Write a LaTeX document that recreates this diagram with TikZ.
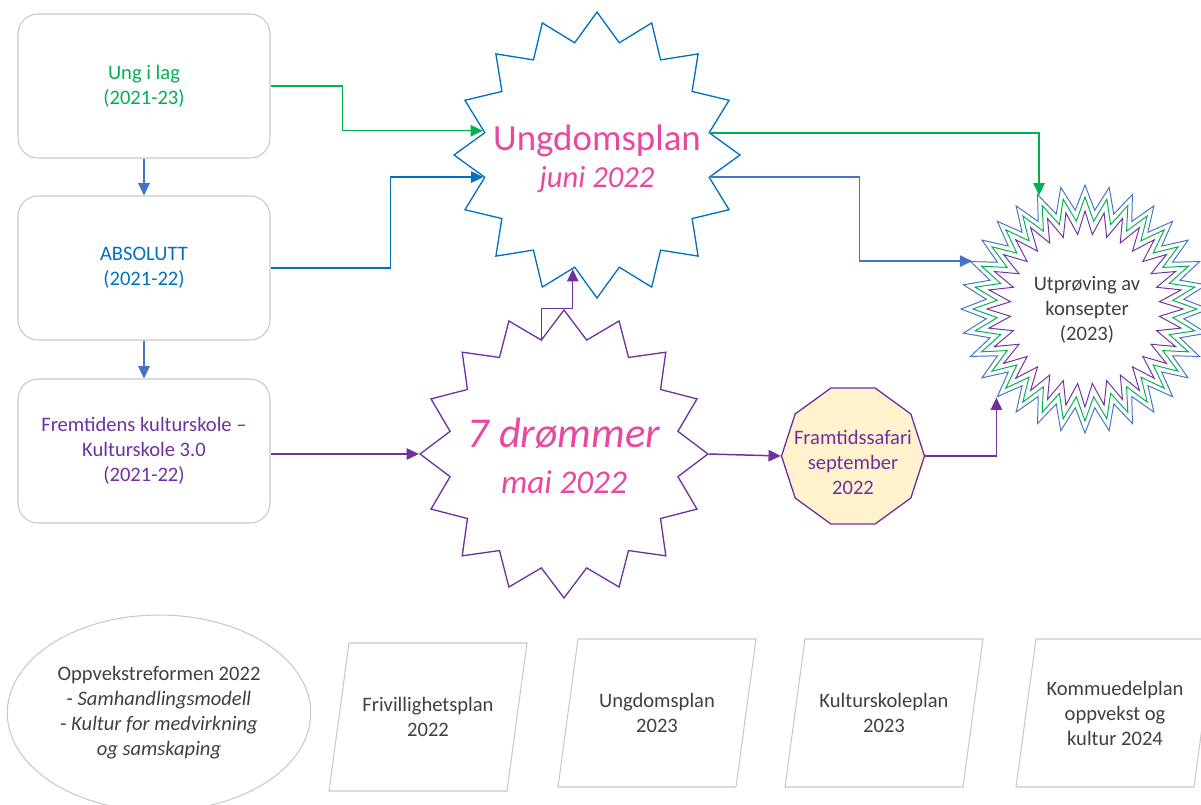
\documentclass[tikz,border=0pt]{standalone}
\usepackage{fontspec}
\setmainfont{Carlito}
\usetikzlibrary{shapes.geometric,arrows.meta}
\definecolor{lgray}{RGB}{200,200,200}
\definecolor{dgray}{RGB}{64,64,64}
\definecolor{grn}{RGB}{0,176,80}
\definecolor{blu}{RGB}{0,112,192}
\definecolor{blu2}{RGB}{68,114,196}
\definecolor{purp}{RGB}{112,48,160}
\definecolor{rosa}{RGB}{232,72,160}
\definecolor{safari}{RGB}{255,242,204}

\begin{document}
\begin{tikzpicture}[x=0.02cm, y=-0.02cm,
	every node/.style={font=\fontsize{11.7pt}{14.2pt}\selectfont},
	box/.style={draw=lgray, line width=0.6pt, rounded corners=0.4cm, minimum width=5.04cm, minimum height=2.88cm, align=center},
	plantext/.style={align=center, text=dgray, inner sep=0pt},
	planline/.style={draw=lgray, line width=0.6pt},
	burst/.style={star, inner sep=0pt, line width=0.75pt},
	thinburst/.style={star, star points=32, inner sep=0pt, line width=0.55pt},
	flow/.style={-{Triangle[length=7pt, width=6.5pt]}, line width=0.85pt}]
			\useasboundingbox (0,0) rectangle (1201,805);
			
			\node[box, text=grn] (lag) at (144,86) {Ung i lag\\(2021-23)};
			\node[box, text=blu] (absolutt) at (144,268) {ABSOLUTT\\(2021-22)};
			\node[box, text=purp] (kulturskole) at (144,451) {Fremtidens kulturskole –\\Kulturskole 3.0\\(2021-22)};
			
			\node[burst, star points=16, star point ratio=1.25, minimum size=5.72cm, draw=blu] (ung) at (597,155) {};
			\node[text=rosa, font=\fontsize{21pt}{25pt}\selectfont] (ungtitle) at (597,141) {Ungdomsplan};
			\node[text=rosa, font=\fontsize{17.4pt}{21pt}\selectfont\itshape] (ungdate) at (597,180) {juni 2022};
			
			\node[burst, star points=16, star point ratio=1.24, minimum size=5.76cm, draw=purp] (dream) at (564,454) {};
			\node[text=rosa, font=\fontsize{24.2pt}{29pt}\selectfont\itshape] (dreamtitle) at (564,433) {7 drømmer};
			\node[text=rosa, font=\fontsize{18.9pt}{23pt}\selectfont\itshape] (dreamdate) at (564,482) {mai 2022};
			
			\node[regular polygon, regular polygon sides=10, minimum size=2.86cm, inner sep=0pt, fill=safari, draw=purp, line width=0.75pt] (safari) at (853,456) {};
			\node[text=purp, align=center] (safaritext) at (853,462) {Framtidssafari\\september\\2022};
			
			\node[thinburst, star point ratio=1.25, minimum size=4.96cm, draw=blu2] (utp) at (1085,309) {};
			\node[thinburst, star point ratio=1.27, minimum size=4.48cm, draw=grn] (utpmid) at (1085,309) {};
			\node[thinburst, star point ratio=1.31, minimum size=3.92cm, draw=purp] (utpin) at (1085,309) {};
			\node[text=dgray, align=center] (utptext) at (1087,310) {Utprøving av\\konsepter\\(2023)};
			
			\node[ellipse, draw=lgray, line width=0.6pt, minimum width=5.88cm, minimum height=3.92cm, text=dgray, align=center] (reform) at (159,713) {Oppvekstreformen 2022\\- \textit{Samhandlingsmodell}\\- \textit{Kultur for medvirkning}\\\textit{og samskaping}};
			
			\node[plantext] (frivillig) at (428,717) {Frivillighetsplan\\2022};
			\node[plantext] (ungplan) at (657,713) {Ungdomsplan\\2023};
			\node[plantext] (kplan) at (884,713) {Kulturskoleplan\\2023};
			\node[plantext] (kdp) at (1115,713) {Kommuedelplan\\oppvekst og\\kultur 2024};
			\draw[planline] ([shift={(-99,74)}]frivillig.center)--++(178,0)--++(20,-148)--++(-178,0)--cycle;
			\draw[planline] ([shift={(-99,74)}]ungplan.center)--++(178,0)--++(20,-148)--++(-178,0)--cycle;
			\draw[planline] ([shift={(-99,74)}]kplan.center)--++(178,0)--++(20,-148)--++(-178,0)--cycle;
			\draw[planline] ([shift={(-99,74)}]kdp.center)--++(178,0)--++(20,-148)--++(-178,0)--cycle;
			
			\draw[flow, blu2] (lag.south)--(absolutt.north);
			\draw[flow, blu2] (absolutt.south)--(kulturskole.north);
			\draw[flow, grn] (lag.east)--++(72,0) |- (ung.168.75);
			\draw[flow, blu] (absolutt.east)--++(120,0) |- (ung.191.25);
			\draw[flow, purp] (kulturskole.east |- dream.180)--(dream.180);
			\draw[flow, purp] (dream.101.25)--++(0,-30) -| (ung.258.75);
			\draw[flow, purp] (dream.0)--(safari.180);
			\draw[flow, grn] (ung.11.25) -| (utp.112.5);
			\draw[flow, blu2] (ung.-11.25)--++(149,0) |- (utp.157.5);
			\draw[flow, purp] (safari.0) -| (utp.225);
			
		\end{tikzpicture}
\end{document}
